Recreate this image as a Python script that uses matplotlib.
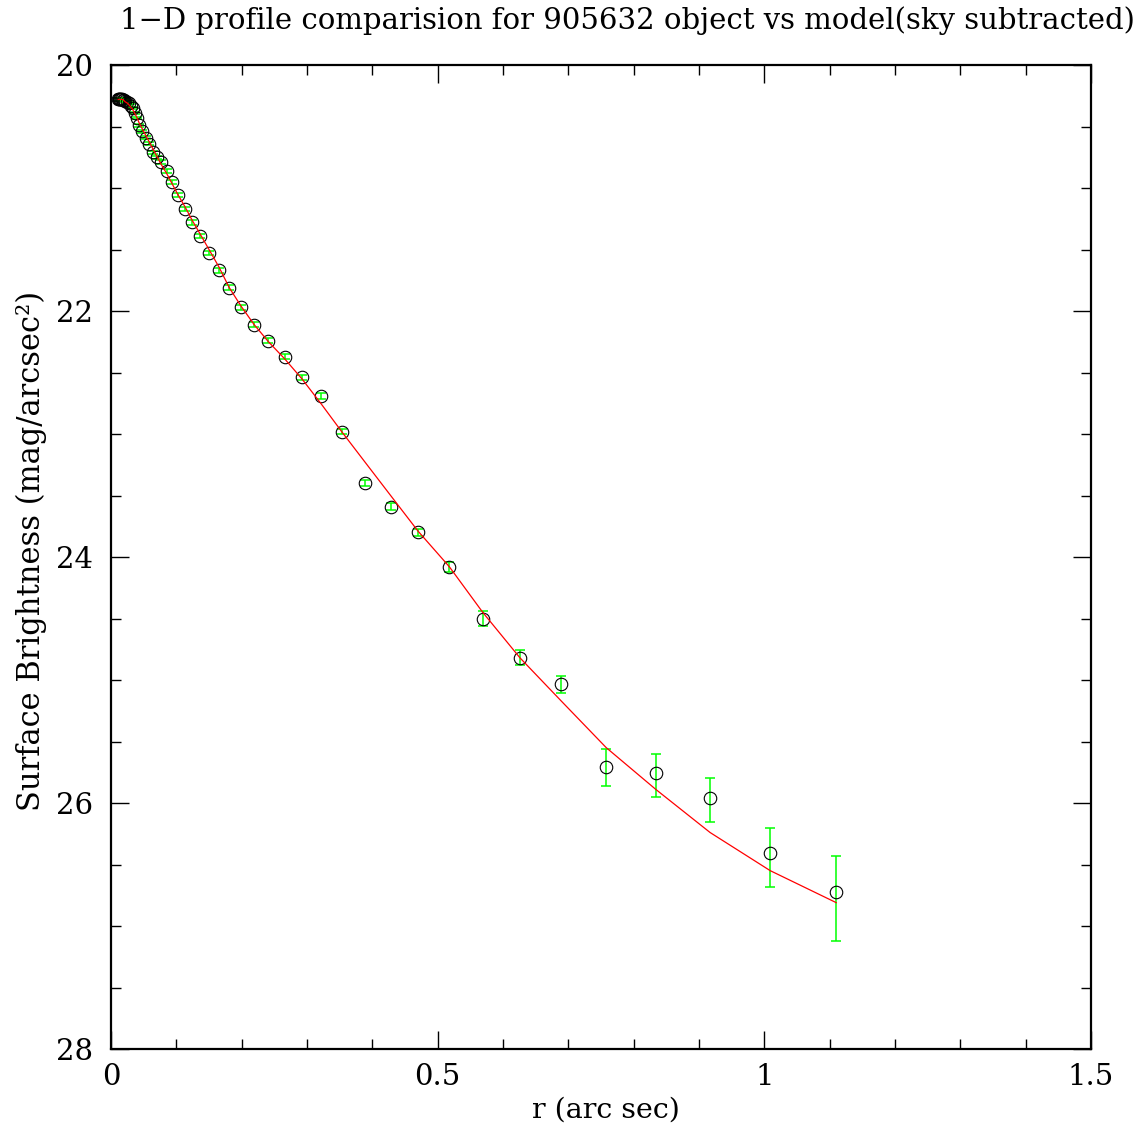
import matplotlib
matplotlib.use('Agg')
import matplotlib.pyplot as plt
from matplotlib.ticker import MultipleLocator

# радиусы изофот (arc sec)
r = [0.011, 0.012, 0.013, 0.014, 0.015, 0.017, 0.018, 0.020, 0.022, 0.025,
     0.027, 0.030, 0.033, 0.036, 0.040, 0.043, 0.048, 0.053, 0.058, 0.064,
     0.070, 0.077, 0.085, 0.093, 0.102, 0.113, 0.124, 0.136, 0.150, 0.165,
     0.181, 0.199, 0.219, 0.241, 0.266, 0.292, 0.321, 0.353, 0.389, 0.428,
     0.470, 0.518, 0.569, 0.626, 0.689, 0.758, 0.834, 0.917, 1.009, 1.110]

# поверхностная яркость объекта
sb_obj = [20.28, 20.28, 20.28, 20.28, 20.28, 20.28, 20.285, 20.285, 20.29, 20.30,
          20.31, 20.33, 20.35, 20.39, 20.43, 20.49, 20.54, 20.59, 20.64, 20.71,
          20.75, 20.79, 20.86, 20.95, 21.06, 21.17, 21.28, 21.39, 21.53, 21.67,
          21.81, 21.97, 22.11, 22.24, 22.37, 22.54, 22.69, 22.98, 23.40, 23.59,
          23.80, 24.08, 24.50, 24.82, 25.03, 25.71, 25.76, 25.96, 26.41, 26.72]

# ошибки (вверх / вниз)
err_up = [0.01, 0.01, 0.01, 0.01, 0.01, 0.01, 0.01, 0.01, 0.01, 0.01,
          0.01, 0.01, 0.01, 0.01, 0.01, 0.012, 0.012, 0.012, 0.012, 0.014,
          0.014, 0.014, 0.015, 0.015, 0.016, 0.016, 0.017, 0.018, 0.018, 0.019,
          0.02, 0.02, 0.02, 0.021, 0.022, 0.022, 0.023, 0.024, 0.025, 0.027,
          0.03, 0.037, 0.057, 0.06, 0.065, 0.146, 0.155, 0.16, 0.21, 0.29]
err_down = [0.01, 0.01, 0.01, 0.01, 0.01, 0.01, 0.01, 0.01, 0.01, 0.01,
            0.01, 0.01, 0.01, 0.01, 0.01, 0.012, 0.012, 0.012, 0.012, 0.014,
            0.014, 0.014, 0.015, 0.015, 0.016, 0.016, 0.017, 0.018, 0.018, 0.019,
            0.02, 0.02, 0.02, 0.021, 0.022, 0.022, 0.023, 0.024, 0.025, 0.028,
            0.031, 0.038, 0.058, 0.062, 0.073, 0.155, 0.195, 0.195, 0.27, 0.40]

# модель
sb_model = [20.28, 20.28, 20.28, 20.28, 20.28, 20.28, 20.28, 20.29, 20.30, 20.31,
            20.32, 20.34, 20.36, 20.39, 20.43, 20.47, 20.52, 20.57, 20.62, 20.68,
            20.74, 20.81, 20.88, 20.96, 21.05, 21.15, 21.26, 21.37, 21.50, 21.64,
            21.81, 21.96, 22.11, 22.25, 22.39, 22.55, 22.75, 22.98, 23.23, 23.50,
            23.79, 24.08, 24.45, 24.82, 25.17, 25.55, 25.89, 26.24, 26.55, 26.81]

font = 'DejaVu Serif'

fig = plt.figure(figsize=(11.44, 11.28), dpi=100)
ax = fig.add_axes([111 / 1144, 79 / 1128, 980 / 1144, 984 / 1128])

ax.errorbar(r, sb_obj, yerr=[err_up, err_down], fmt='none', ecolor='#00ff00',
            elinewidth=1.1, capsize=3.3, capthick=1.1, zorder=2)
ax.plot(r, sb_obj, 'o', mfc='none', mec='black', ms=9, mew=0.8, zorder=3)
ax.plot(r, sb_model, '-', color='red', lw=0.9, zorder=4)

ax.set_xlim(0, 1.5)
ax.set_ylim(28, 20)
ax.xaxis.set_major_locator(MultipleLocator(0.5))
ax.xaxis.set_minor_locator(MultipleLocator(0.1))
ax.yaxis.set_major_locator(MultipleLocator(2))
ax.yaxis.set_minor_locator(MultipleLocator(0.5))
ax.xaxis.set_major_formatter(plt.FuncFormatter(lambda v, p: '%g' % v))

ax.tick_params(which='both', direction='in', top=True, right=True, width=1.0)
ax.tick_params(which='major', length=13)
ax.tick_params(which='minor', length=7)
ax.tick_params(axis='x', pad=10)
ax.tick_params(axis='y', pad=13)
for s in ax.spines.values():
    s.set_linewidth(1.6)

for lab in ax.get_xticklabels() + ax.get_yticklabels():
    lab.set_fontfamily(font)
    lab.set_fontsize(21)

fig.text(627 / 1144, 1 - 21 / 1128,
         '1\u2212D profile comparision for 905632 object vs model(sky subtracted)',
         ha='center', va='center', fontsize=21, family=font)
fig.text(606 / 1144, 1 - 1110 / 1128, 'r (arc sec)',
         ha='center', va='center', fontsize=20.5, family=font)
fig.text(31 / 1144, 1 - 551 / 1128, 'Surface Brightness (mag/arcsec\u00b2)',
         ha='center', va='center', rotation=90, fontsize=22, family=font)

fig.savefig('out.png', dpi=100)
